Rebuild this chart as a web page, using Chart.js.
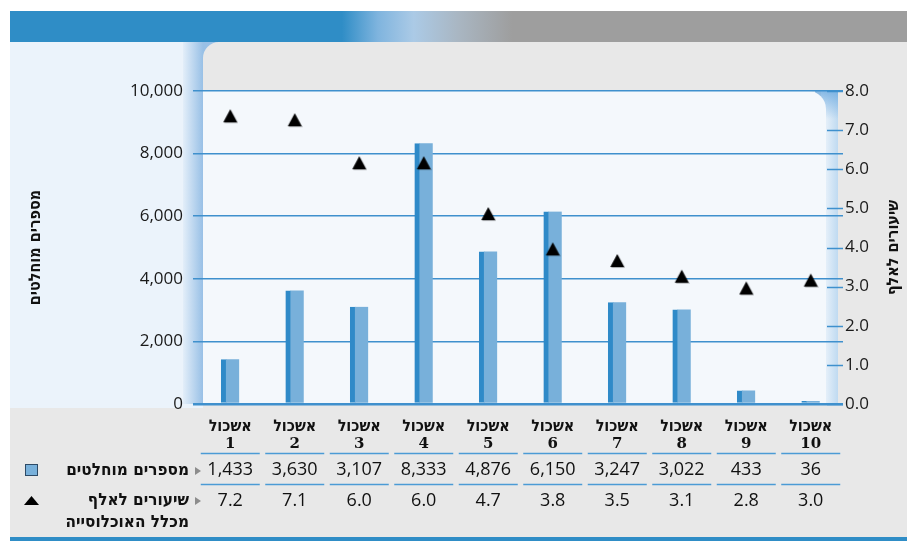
<!DOCTYPE html>
<html>
<head>
<meta charset="utf-8">
<script src="https://cdn.jsdelivr.net/npm/chart.js@4.4.1/dist/chart.umd.min.js"></script>
<style>
  html, body { margin: 0; padding: 0; background: #fff; }
  canvas { display: block; }
</style>
</head>
<body>
<canvas id="clusterChart" width="907" height="541"></canvas>
<script>
// --- data ---
const clusterWord = 'אשכול';
const clusterNums = ['1', '2', '3', '4', '5', '6', '7', '8', '9', '10'];
const absoluteNumbers = [1433, 3630, 3107, 8333, 4876, 6150, 3247, 3022, 433, 36];
const ratesPerThousand = [7.2, 7.1, 6.0, 6.0, 4.7, 3.8, 3.5, 3.1, 2.8, 3.0];
const absLabel = 'מספרים מוחלטים';
const rateLabel = ['שיעורים לאלף', 'מכלל האוכלוסייה'];
const leftTitle = 'מספרים מוחלטים';
const rightTitle = 'שיעורים לאלף';

const NUM_FONT = '"Open Sans", "Noto Sans", sans-serif';
const HEB_FONT = '"DejaVu Sans Condensed", "DejaVu Sans", sans-serif';
const GRID_BLUE = '#3f90cd';

// triangle marker, base sits on the value (image is centered on the point)
function makeTriangle(w, h) {
    const c = document.createElement('canvas');
    c.width = w + 2;
    c.height = h * 2 + 2;
    const g = c.getContext('2d');
    const base = h + 1;
    g.fillStyle = 'rgba(0,0,0,0.25)';
    g.beginPath();
    g.moveTo(2, base + 1); g.lineTo(w + 2, base + 1); g.lineTo(w / 2 + 2, 2);
    g.fill();
    g.fillStyle = '#000';
    g.beginPath();
    g.moveTo(1, base); g.lineTo(w + 1, base); g.lineTo(w / 2 + 1, 1);
    g.fill();
    return c;
}
const triangleMarker = makeTriangle(14, 13);

// backgrounds / walls
const backdrop = {
    id: 'backdrop',
    beforeDraw(chart) {
        const ctx = chart.ctx;
        const a = chart.chartArea;
        ctx.save();
        // header strip
        const hg = ctx.createLinearGradient(10, 0, 907, 0);
        hg.addColorStop(0, '#2f8dc6');
        hg.addColorStop(0.37, '#2f8dc6');
        hg.addColorStop(0.41, '#7fb4de');
        hg.addColorStop(0.45, '#abcae6');
        hg.addColorStop(0.50, '#a9b6c2');
        hg.addColorStop(0.56, '#9e9e9e');
        hg.addColorStop(1, '#9e9e9e');
        ctx.fillStyle = hg;
        ctx.fillRect(10, 11, 897, 31);

        // grey panel
        ctx.fillStyle = '#e8e8e8';
        ctx.fillRect(10, 42, 897, 496);

        // left light-blue panel
        ctx.fillStyle = '#ebf3fb';
        ctx.fillRect(10, 42, a.left + 5 - 10, a.bottom + 4 - 42);

        // left wall
        const lw = ctx.createLinearGradient(a.left - 15, 0, a.left + 5, 0);
        lw.addColorStop(0, '#e3eef9');
        lw.addColorStop(1, '#98c0e6');
        ctx.fillStyle = lw;
        ctx.fillRect(a.left - 15, 42, 35, a.bottom - 42);

        // grey top with rounded corner
        ctx.fillStyle = '#e8e8e8';
        ctx.beginPath();
        ctx.roundRect(a.left + 5, 42, 907 - a.left - 5, a.top - 42, [16, 0, 0, 0]);
        ctx.fill();

        // right wall
        const rw = ctx.createLinearGradient(a.right - 22, 0, a.right - 5, 0);
        rw.addColorStop(0, '#f4f8fc');
        rw.addColorStop(1, '#bfdaf1');
        ctx.fillStyle = rw;
        ctx.fillRect(a.right - 22, a.top, 17, a.bottom - a.top);
        const rc = ctx.createLinearGradient(0, a.top, 0, a.top + 28);
        rc.addColorStop(0, 'rgba(100,165,222,0.75)');
        rc.addColorStop(1, 'rgba(100,165,222,0)');
        ctx.fillStyle = rc;
        ctx.fillRect(a.right - 28, a.top, 23, 28);

        // plot floor
        ctx.fillStyle = '#f4f8fc';
        ctx.beginPath();
        ctx.roundRect(a.left + 5, a.top, a.right - a.left - 22, a.bottom - a.top, [0, 18, 0, 0]);
        ctx.fill();

        // bottom rule
        ctx.fillStyle = '#2f8dc6';
        ctx.fillRect(10, 537, 897, 4);
        ctx.restore();
    }
};

// right axis inner ticks, axis titles, data table
const extras = {
    id: 'extras',
    afterDraw(chart) {
        const ctx = chart.ctx;
        const a = chart.chartArea;
        const xs = chart.scales.x;
        const r = chart.scales.y1;
        ctx.save();

        ctx.strokeStyle = GRID_BLUE;
        ctx.lineWidth = 1.5;
        r.ticks.forEach((t, i) => {
            const y = Math.round(r.getPixelForTick(i)) + 0.5;
            ctx.beginPath();
            ctx.moveTo(a.right - 16, y);
            ctx.lineTo(a.right, y);
            ctx.stroke();
        });

        // axis titles
        ctx.fillStyle = '#111';
        ctx.font = 'bold 16px ' + HEB_FONT;
        ctx.textAlign = 'center';
        ctx.textBaseline = 'middle';
        const midY = (a.top + a.bottom) / 2;
        [[36, leftTitle], [894, rightTitle]].forEach(([x, txt]) => {
            ctx.save();
            ctx.translate(x, midY);
            ctx.rotate(-Math.PI / 2);
            ctx.direction = 'rtl';
            ctx.fillText(txt, 0, 0);
            ctx.restore();
        });

        // table
        ctx.direction = 'rtl';
        for (let i = 0; i < clusterNums.length; i++) {
            const cx = xs.getPixelForValue(i);
            ctx.fillStyle = '#111';
            ctx.textAlign = 'center';
            ctx.font = 'bold 16px ' + HEB_FONT;
            ctx.fillText(clusterWord, cx, 427);
            ctx.font = 'bold 15px "DejaVu Serif", serif';
            ctx.fillText(clusterNums[i], cx, 444);
            ctx.font = '18px ' + NUM_FONT;
            ctx.direction = 'ltr';
            ctx.fillText(absoluteNumbers[i].toLocaleString('en-US'), cx, 470);
            ctx.fillText(ratesPerThousand[i].toFixed(1), cx, 501);
            ctx.direction = 'rtl';
            ctx.strokeStyle = '#4b9bd5';
            ctx.lineWidth = 1.5;
            [453.5, 484.5].forEach(y => {
                ctx.beginPath();
                ctx.moveTo(cx - 29.5, y);
                ctx.lineTo(cx + 29.5, y);
                ctx.stroke();
            });
        }

        // row headers
        ctx.textAlign = 'right';
        ctx.font = 'bold 17px ' + HEB_FONT;
        ctx.fillStyle = '#111';
        ctx.fillText(absLabel, 189, 471);
        ctx.fillText(rateLabel[0], 189, 501);
        ctx.fillText(rateLabel[1], 189, 523);

        // small grey pointers
        ctx.fillStyle = '#8c8c8c';
        [471, 501].forEach(y => {
            ctx.beginPath();
            ctx.moveTo(195, y - 4); ctx.lineTo(201, y); ctx.lineTo(195, y + 4);
            ctx.fill();
        });

        // legend keys
        ctx.fillStyle = '#78b0da';
        ctx.fillRect(25, 464, 13, 12);
        ctx.strokeStyle = '#2d4a66';
        ctx.lineWidth = 1;
        ctx.strokeRect(25.5, 464.5, 12, 11);
        ctx.fillStyle = '#000';
        ctx.beginPath();
        ctx.moveTo(24, 505); ctx.lineTo(39, 505); ctx.lineTo(31.5, 496);
        ctx.fill();
        ctx.restore();
    }
};

const ctx = document.getElementById('clusterChart').getContext('2d');
const clusterChart = new Chart(ctx, {
    data: {
        labels: clusterNums.map(n => clusterWord + ' ' + n),
        datasets: [{
            type: 'line',
            label: 'שיעורים לאלף',
            data: ratesPerThousand,
            yAxisID: 'y1',
            showLine: false,
            pointStyle: triangleMarker,
            pointRadius: 8,
            order: 0
        }, {
            type: 'bar',
            label: 'מספרים מוחלטים',
            data: absoluteNumbers,
            yAxisID: 'y',
            backgroundColor: '#78b0da',
            borderColor: '#2f8ac8',
            borderWidth: { left: 5, top: 0, right: 0, bottom: 0 },
            barThickness: 18,
            minBarLength: 3,
            order: 1
        }]
    },
    options: {
        responsive: false,
        animation: false,
        layout: { padding: { top: 91, bottom: 137, left: 0, right: 0 } },
        plugins: {
            legend: { display: false },
            tooltip: { enabled: false }
        },
        scales: {
            x: { display: false, offset: true },
            y: {
                position: 'left',
                min: 0, max: 10000,
                afterFit: s => { s.width = 198; },
                border: { display: false },
                grid: {
                    color: GRID_BLUE,
                    lineWidth: c => c.tick && c.tick.value === 0 ? 2.5 : 1.5,
                    tickLength: 5
                },
                ticks: {
                    stepSize: 2000,
                    padding: 10,
                    color: '#1a1a1a',
                    font: { family: NUM_FONT, size: 17 },
                    callback: v => v.toLocaleString('en-US')
                }
            },
            y1: {
                position: 'right',
                min: 0, max: 8,
                afterFit: s => { s.width = 64; },
                border: { display: false },
                grid: { drawOnChartArea: false, drawTicks: false },
                ticks: {
                    stepSize: 1,
                    padding: 2,
                    color: '#1a1a1a',
                    font: { family: NUM_FONT, size: 17 },
                    callback: v => v.toFixed(1)
                }
            }
        }
    },
    plugins: [backdrop, extras]
});
</script>
</body>
</html>
